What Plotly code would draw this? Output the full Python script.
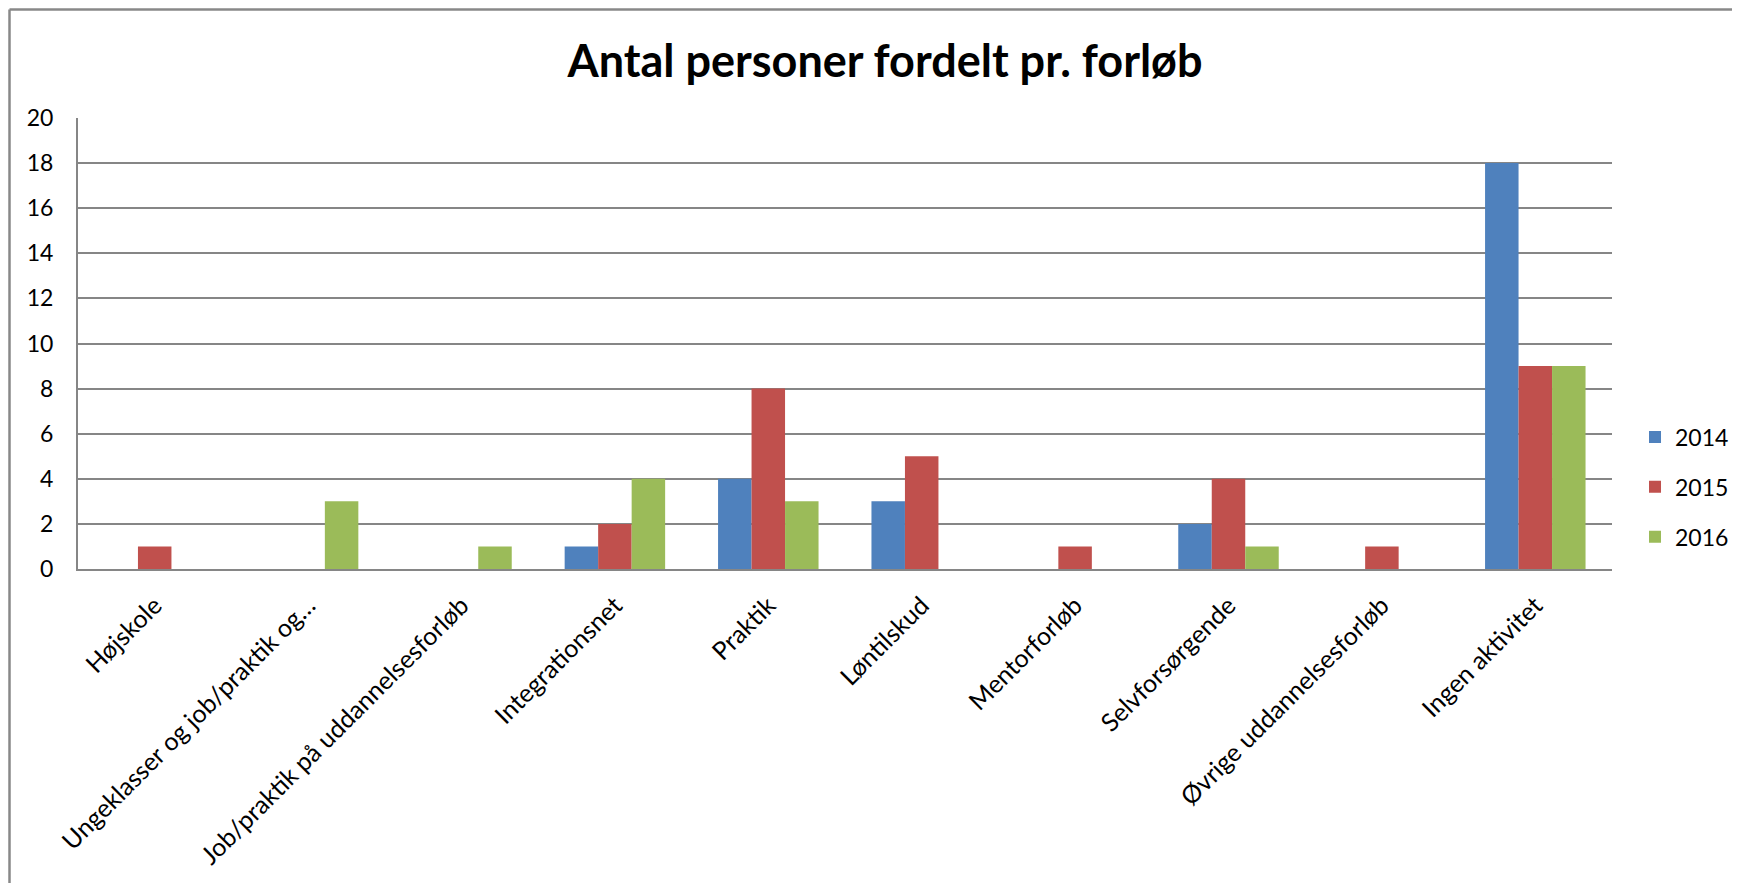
import plotly.graph_objects as go

categories = [
    "Højskole",
    "Ungeklasser og job/praktik og…",
    "Job/praktik på uddannelsesforløb",
    "Integrationsnet",
    "Praktik",
    "Løntilskud",
    "Mentorforløb",
    "Selvforsørgende",
    "Øvrige uddannelsesforløb",
    "Ingen aktivitet",
]
series_names = ["2014", "2015", "2016"]
values_2014 = [0, 0, 0, 1, 4, 3, 0, 2, 0, 18]
values_2015 = [1, 0, 0, 2, 8, 5, 1, 4, 1, 9]
values_2016 = [0, 3, 1, 4, 3, 0, 0, 1, 0, 9]
y_ticks = [0, 2, 4, 6, 8, 10, 12, 14, 16, 18, 20]

colors = ["#4F81BD", "#C0504D", "#9BBB59"]
FONT = "Lato"

# figure geometry (page body has an 8px margin)
W, H = 1732, 875
L, R, T, B = 70, 128, 110, 314
PW, PH = W - L - R, H - T - B

fig = go.Figure()
for name, vals, col in zip(series_names, [values_2014, values_2015, values_2016], colors):
    fig.add_trace(go.Bar(
        x=categories, y=vals, name=name, legendgroup=name,
        marker=dict(color=col, line=dict(width=0)),
    ))

fig.update_layout(
    width=W, height=H,
    margin=dict(l=L, r=R, t=T, b=B, autoexpand=False),
    paper_bgcolor="white", plot_bgcolor="white",
    barmode="group", bargap=0.345, bargroupgap=0,
    font=dict(family=FONT, color="black", size=25),
    title=dict(
        text="<b>Antal personer fordelt pr. forløb</b>",
        x=(877 - L) / PW, xref="paper", xanchor="center",
        y=1 - 53 / H, yref="container", yanchor="middle",
        font=dict(family=FONT, size=45, color="black"),
    ),
    showlegend=True,
    legend=dict(
        x=1.015, xanchor="left",
        y=(T + PH - 479) / PH, yref="paper", yanchor="middle",
        traceorder="grouped", tracegroupgap=17,
        font=dict(family=FONT, size=23, color="black"),
        bgcolor="rgba(0,0,0,0)",
    ),
    xaxis=dict(
        tickangle=-45, showgrid=False, showline=True, linecolor="#868686",
        linewidth=2, ticks="", ticklabelstandoff=10,
        tickfont=dict(family=FONT, size=25, color="black"),
        fixedrange=True,
    ),
    yaxis=dict(
        range=[0, 20], tickvals=y_ticks, showgrid=True, gridcolor="#868686",
        gridwidth=2, showline=True, linecolor="#868686", linewidth=2,
        zeroline=False, ticks="", ticklabelstandoff=18,
        tickfont=dict(family=FONT, size=23, color="black"),
        fixedrange=True,
    ),
)

# outer chart-area border (only left and top edges visible in the reference)
bx = (1.5 - L) / PW
by = (T + PH - 1.5) / PH
fig.add_shape(type="line", xref="paper", yref="paper",
              x0=bx, x1=bx, y0=by, y1=(T + PH - H - 20) / PH,
              line=dict(color="#888888", width=2.5))
fig.add_shape(type="line", xref="paper", yref="paper",
              x0=bx, x1=(W + 20 - L) / PW, y0=by, y1=by,
              line=dict(color="#888888", width=2.5))

fig.write_html("out.html")
